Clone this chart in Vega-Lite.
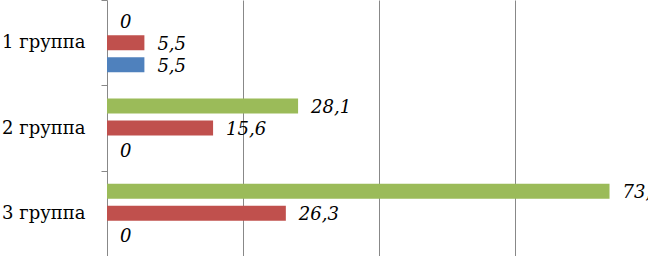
{
  "$schema": "https://vega.github.io/schema/vega-lite/v6.json",
  "width": 544,
  "height": 256,
  "autosize": "none",
  "padding": {"left": 107, "top": 0, "right": 0, "bottom": 0},
  "background": "white",
  "config": {
    "view": {"stroke": null},
    "locale": {"number": {"decimal": ",", "thousands": " ", "grouping": [3], "currency": ["", ""]}}
  },
  "data": {
    "values": [
      {"group": "1 группа", "series": "s3", "value": 0},
      {"group": "1 группа", "series": "s2", "value": 5.5},
      {"group": "1 группа", "series": "s1", "value": 5.5},
      {"group": "2 группа", "series": "s3", "value": 28.1},
      {"group": "2 группа", "series": "s2", "value": 15.6},
      {"group": "2 группа", "series": "s1", "value": 0},
      {"group": "3 группа", "series": "s3", "value": 73.9},
      {"group": "3 группа", "series": "s2", "value": 26.3},
      {"group": "3 группа", "series": "s1", "value": 0}
    ]
  },
  "encoding": {
    "y": {
      "field": "group",
      "type": "nominal",
      "sort": ["1 группа", "2 группа", "3 группа"],
      "scale": {"paddingInner": 0, "paddingOuter": 0},
      "axis": {
        "title": null,
        "domainColor": "#888888",
        "tickColor": "#888888",
        "tickBand": "extent",
        "tickSize": 6,
        "labelFont": "DejaVu Serif",
        "labelFontSize": 18,
        "labelColor": "black",
        "labelPadding": 16
      }
    },
    "yOffset": {
      "field": "series",
      "sort": ["s3", "s2", "s1"],
      "scale": {"paddingInner": 0.318, "paddingOuter": 0.6}
    },
    "x": {
      "field": "value",
      "type": "quantitative",
      "scale": {"domain": [0, 80], "nice": false},
      "axis": {
        "title": null,
        "domain": false,
        "ticks": false,
        "labels": false,
        "grid": true,
        "gridColor": "#888888",
        "values": [20, 40, 60, 80]
      }
    }
  },
  "layer": [
    {
      "mark": {"type": "bar"},
      "encoding": {
        "color": {
          "field": "series",
          "type": "nominal",
          "scale": {"domain": ["s3", "s2", "s1"], "range": ["#9BBB59", "#C0504D", "#4F81BD"]},
          "legend": null
        }
      }
    },
    {
      "mark": {"type": "text", "align": "left", "baseline": "middle", "dx": 13, "dy": 2, "font": "DejaVu Serif", "fontStyle": "italic", "fontSize": 18, "color": "black"},
      "encoding": {
        "text": {"field": "value", "type": "quantitative", "format": "~g"}
      }
    }
  ]
}
